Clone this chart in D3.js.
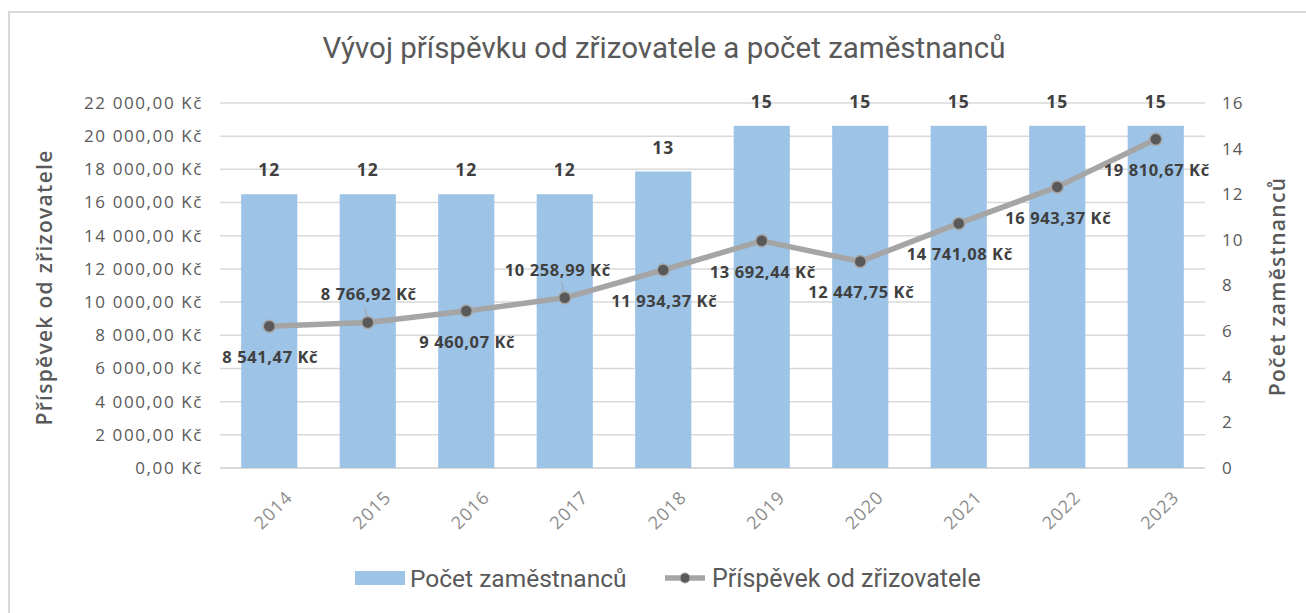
<!DOCTYPE html>
<html>
<head>
<meta charset="utf-8">
<script src="https://cdn.jsdelivr.net/npm/d3@7/dist/d3.min.js"></script>
<style>
  body { margin: 0; background: #fff; }
  text { fill: #595959; }
</style>
</head>
<body>
<script>
const WIDTH = 1306
const HEIGHT = 613

// data
const YEARS = ['2014', '2015', '2016', '2017', '2018', '2019', '2020', '2021', '2022', '2023']
const EMPLOYEES = [12, 12, 12, 12, 13, 15, 15, 15, 15, 15]
const CONTRIBUTION = [8541.47, 8766.92, 9460.07, 10258.99, 11934.37, 13692.44, 12447.75, 14741.08, 16943.37, 19810.67]
const LEFT_TICKS = [0, 2000, 4000, 6000, 8000, 10000, 12000, 14000, 16000, 18000, 20000, 22000]
const RIGHT_TICKS = [0, 2, 4, 6, 8, 10, 12, 14, 16]

// where each line label sits relative to its point
const LABEL_POS = ['below', 'above', 'below', 'above', 'below', 'below', 'below', 'below', 'below', 'below']

const NUM_FONT = "'Open Sans', sans-serif"
const NARROW_FONT = "'Roboto', sans-serif"

const margin = { top: 103, right: 101, bottom: 145, left: 220 }

const svg = d3.select('body')
  .append('svg')
  .attr('width', WIDTH)
  .attr('height', HEIGHT)

// chart frame
svg.append('rect')
  .attr('x', 9).attr('y', 12)
  .attr('width', WIDTH + 20).attr('height', HEIGHT + 20)
  .attr('fill', 'none')
  .attr('stroke', '#d9d9d9')
  .attr('stroke-width', 2)

const x = d3.scaleBand()
  .domain(YEARS)
  .range([margin.left, WIDTH - margin.right])
  .paddingInner(0.43)
  .paddingOuter(0.215)

const yLeft = d3.scaleLinear()
  .domain([0, 22000])
  .range([HEIGHT - margin.bottom, margin.top])

const yRight = d3.scaleLinear()
  .domain([0, 16])
  .range([HEIGHT - margin.bottom, margin.top])

const fmt = v => d3.format(',.2f')(v).replace(/,/g, ' ').replace('.', ',') + ' Kč'

// grid lines (left axis)
svg.append('g')
  .selectAll('line')
  .data(LEFT_TICKS)
  .enter()
  .append('line')
  .attr('x1', margin.left)
  .attr('x2', WIDTH - margin.right)
  .attr('y1', d => yLeft(d))
  .attr('y2', d => yLeft(d))
  .attr('stroke', '#d9d9d9')
  .attr('stroke-width', d => d === 0 ? 2 : 1.5)

// left tick labels
svg.append('g')
  .selectAll('text')
  .data(LEFT_TICKS)
  .enter()
  .append('text')
  .attr('x', 203)
  .attr('y', d => yLeft(d))
  .attr('dy', '0.35em')
  .attr('text-anchor', 'end')
  .style('font-family', NUM_FONT)
  .style('font-size', '17px')
  .style('letter-spacing', '1.6px')
  .text(d => fmt(d))

// right tick labels
svg.append('g')
  .selectAll('text')
  .data(RIGHT_TICKS)
  .enter()
  .append('text')
  .attr('x', 1222)
  .attr('y', d => yRight(d))
  .attr('dy', '0.35em')
  .style('font-family', NUM_FONT)
  .style('font-size', '17px')
  .style('letter-spacing', '1px')
  .text(d => d)

// bars
svg.append('g')
  .selectAll('rect')
  .data(EMPLOYEES)
  .enter()
  .append('rect')
  .attr('x', (d, i) => x(YEARS[i]))
  .attr('y', d => yRight(d))
  .attr('width', x.bandwidth())
  .attr('height', d => yRight(0) - yRight(d))
  .attr('fill', '#9dc3e6')

// bar labels
svg.append('g')
  .selectAll('text')
  .data(EMPLOYEES)
  .enter()
  .append('text')
  .attr('x', (d, i) => x(YEARS[i]) + x.bandwidth() / 2)
  .attr('y', d => yRight(d) - 24)
  .attr('dy', '0.35em')
  .attr('text-anchor', 'middle')
  .style('font-family', NUM_FONT)
  .style('font-size', '17.5px')
  .style('font-weight', 'bold')
  .style('letter-spacing', '1px')
  .style('fill', '#404040')
  .text(d => d)

// line
const cx = i => x(YEARS[i]) + x.bandwidth() / 2
const line = d3.line()
  .x((d, i) => cx(i))
  .y(d => yLeft(d))

svg.append('path')
  .datum(CONTRIBUTION)
  .attr('d', line)
  .attr('fill', 'none')
  .attr('stroke', '#a5a5a5')
  .attr('stroke-width', 5.5)
  .attr('stroke-linejoin', 'round')

// leader lines for labels above
svg.append('g')
  .selectAll('line')
  .data(CONTRIBUTION.map((d, i) => i).filter(i => LABEL_POS[i] === 'above'))
  .enter()
  .append('line')
  .attr('x1', i => cx(i) - 3)
  .attr('x2', i => cx(i) - 1)
  .attr('y1', i => yLeft(CONTRIBUTION[i]) - 16)
  .attr('y2', i => yLeft(CONTRIBUTION[i]) - 4)
  .attr('stroke', '#a5a5a5')
  .attr('stroke-width', 1)

svg.append('g')
  .selectAll('circle')
  .data(CONTRIBUTION)
  .enter()
  .append('circle')
  .attr('cx', (d, i) => cx(i))
  .attr('cy', d => yLeft(d))
  .attr('r', 6)
  .attr('fill', '#595959')
  .attr('stroke', '#a5a5a5')
  .attr('stroke-width', 1.5)

// line labels
svg.append('g')
  .selectAll('text')
  .data(CONTRIBUTION)
  .enter()
  .append('text')
  .attr('x', (d, i) => cx(i) + (i === 3 ? -7 : 1))
  .attr('y', (d, i) => yLeft(d) + (LABEL_POS[i] === 'above' ? -28 : 31))
  .attr('dy', '0.35em')
  .attr('text-anchor', 'middle')
  .style('font-family', NUM_FONT)
  .style('font-size', '16.5px')
  .style('font-weight', 'bold')
  .style('fill', '#404040')
  .style('letter-spacing', '0.6px')
  .text(d => fmt(d))

// x labels
svg.append('g')
  .selectAll('text')
  .data(YEARS)
  .enter()
  .append('text')
  .attr('transform', d => `translate(${x(d) + x.bandwidth() / 2 + 4}, ${yLeft(0) + 42}) rotate(-45)`)
  .attr('text-anchor', 'middle')
  .attr('dy', '0.35em')
  .style('font-family', NUM_FONT)
  .style('font-size', '18px')
  .style('letter-spacing', '1px')
  .style('fill', '#8c8c8c')
  .text(d => d)

// axis titles
svg.append('text')
  .attr('transform', `translate(45, ${(yLeft(0) + yLeft(22000)) / 2 + 2}) rotate(-90)`)
  .attr('text-anchor', 'middle')
  .attr('dy', '0.35em')
  .style('font-family', NUM_FONT)
  .style('font-size', '21px')
  .style('font-weight', 600)
  .style('letter-spacing', '1.3px')
  .text('Příspěvek od zřizovatele')

svg.append('text')
  .attr('transform', `translate(1278, ${(yLeft(0) + yLeft(22000)) / 2 + 1}) rotate(-90)`)
  .attr('text-anchor', 'middle')
  .attr('dy', '0.35em')
  .style('font-family', NUM_FONT)
  .style('font-size', '21px')
  .style('font-weight', 600)
  .style('letter-spacing', '1.3px')
  .text('Počet zaměstnanců')

// title
svg.append('text')
  .attr('x', 664)
  .attr('y', 58)
  .attr('text-anchor', 'middle')
  .style('font-family', NARROW_FONT)
  .style('font-size', '29.5px')
  .text('Vývoj příspěvku od zřizovatele a počet zaměstnanců')

// legend
const legend = svg.append('g')
  .attr('transform', 'translate(355, 578)')

legend.append('rect')
  .attr('y', -7).attr('width', 50).attr('height', 14)
  .attr('fill', '#9dc3e6')

legend.append('text')
  .attr('x', 55).attr('dy', '0.35em')
  .style('font-family', NARROW_FONT)
  .style('font-size', '24.5px')
  .text('Počet zaměstnanců')

legend.append('line')
  .attr('x1', 310).attr('x2', 350)
  .attr('stroke', '#a5a5a5').attr('stroke-width', 5.5)

legend.append('circle')
  .attr('cx', 330).attr('r', 5)
  .attr('fill', '#595959').attr('stroke', '#a5a5a5')

legend.append('text')
  .attr('x', 357).attr('dy', '0.35em')
  .style('font-family', NARROW_FONT)
  .style('font-size', '25px')
  .text('Příspěvek od zřizovatele')
</script>
</body>
</html>
